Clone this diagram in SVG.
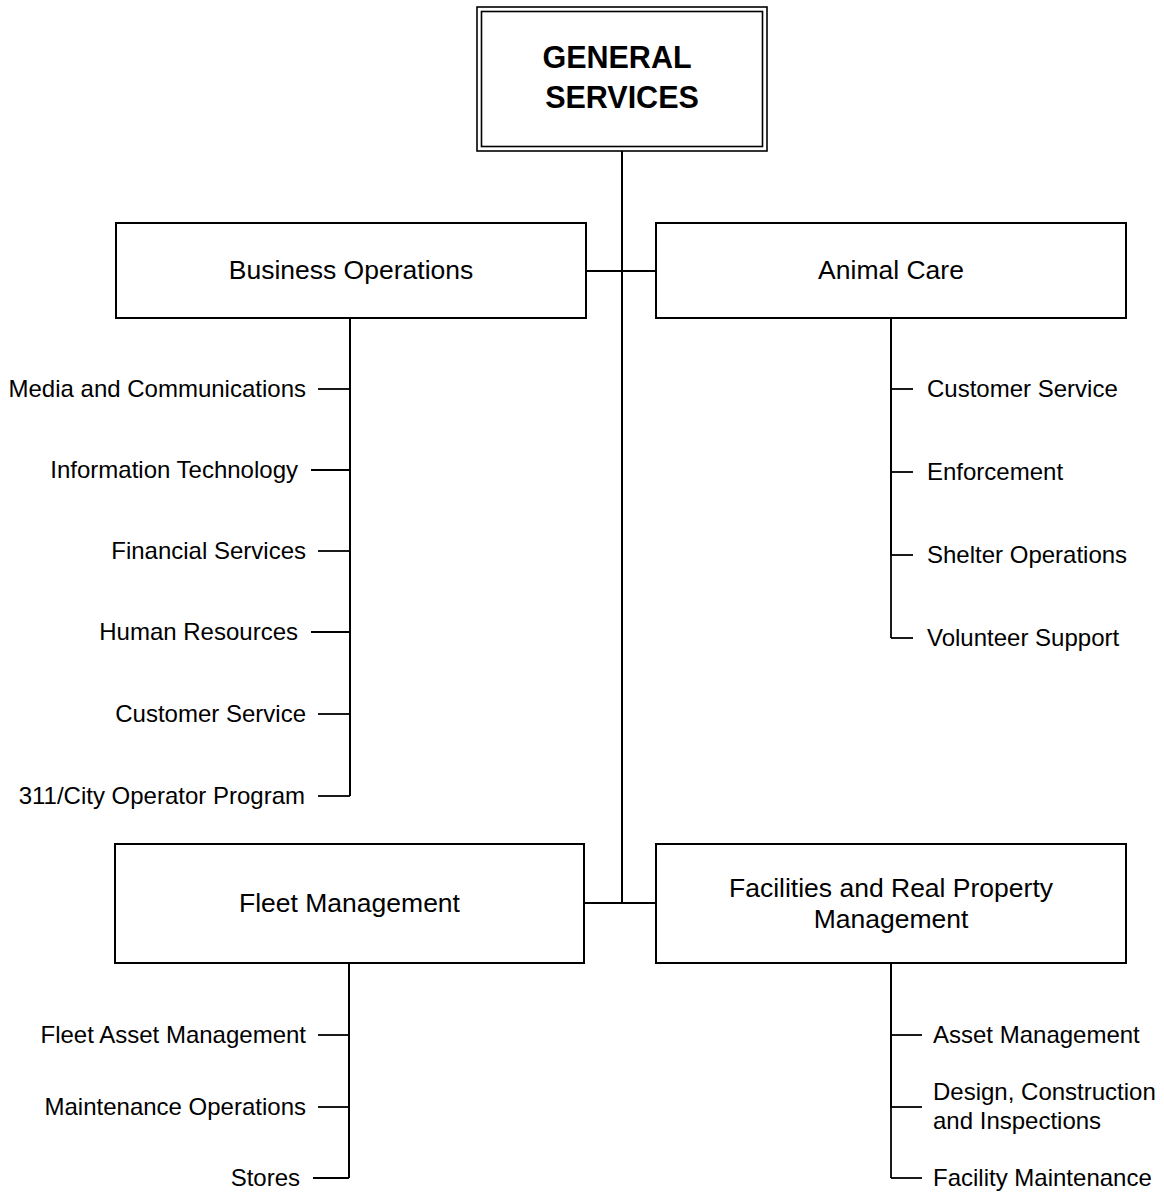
<svg xmlns="http://www.w3.org/2000/svg" width="1164" height="1193" viewBox="0 0 1164 1193">
<style>
  .box { fill: #fff; stroke: #000; stroke-width: 2; }
  .dbl { fill: none; stroke: #000; stroke-width: 1.6; }
  .ln { fill: none; stroke: #000; stroke-width: 2; }
  .tick { fill: none; stroke: #000; stroke-width: 1.8; }
  .title { font-family: "Liberation Sans", Arial, sans-serif; font-weight: bold; font-size: 30.5px; fill: #000; text-anchor: middle; }
  .lbl { font-family: "Liberation Sans", Arial, sans-serif; font-size: 26.5px; fill: #000; text-anchor: middle; }
  .sub { font-family: "Liberation Sans", Arial, sans-serif; font-size: 24px; fill: #000; }
  .r { text-anchor: end; }
  .l { text-anchor: start; }
</style>
<rect width="1164" height="1193" fill="#fff"/>
<g id="connectors">
  <path class="ln" d="M622 151 V903"/>
  <path class="ln" d="M586 271 H656"/>
  <path class="ln" d="M584 903 H656"/>
  <!-- Business Operations children -->
  <path class="ln" d="M350 318 V796"/>
  <path class="tick" d="M318 389 H350"/>
  <path class="tick" d="M311 470 H350"/>
  <path class="tick" d="M318 551 H350"/>
  <path class="tick" d="M311 632 H350"/>
  <path class="tick" d="M318 714 H350"/>
  <path class="tick" d="M318 796 H350"/>
  <!-- Animal Care children -->
  <path class="ln" d="M891 318 V555"/>
  <path class="tick" d="M891 555 V638"/>
  <path class="tick" d="M891 389 H913"/>
  <path class="tick" d="M891 472 H913"/>
  <path class="tick" d="M891 555 H913"/>
  <path class="tick" d="M891 638 H913"/>
  <!-- Fleet Management children -->
  <path class="ln" d="M349 963 V1178"/>
  <path class="tick" d="M318 1035 H349"/>
  <path class="tick" d="M318 1107 H349"/>
  <path class="tick" d="M313 1178 H349"/>
  <!-- Facilities children -->
  <path class="ln" d="M891 963 V1107"/>
  <path class="tick" d="M891 1107 V1178"/>
  <path class="tick" d="M891 1035 H922"/>
  <path class="tick" d="M891 1107 H922"/>
  <path class="tick" d="M891 1178 H922"/>
</g>
<g id="general-services">
  <rect class="dbl" x="477" y="7" width="290" height="144"/>
  <rect class="dbl" x="481.5" y="11.5" width="281" height="135"/>
  <text class="title" x="617" y="68">GENERAL</text>
  <text class="title" x="622" y="108">SERVICES</text>
</g>
<g id="business-operations">
  <rect class="box" x="116" y="223" width="470" height="95"/>
  <text class="lbl" x="351" y="279">Business Operations</text>
</g>
<g id="animal-care">
  <rect class="box" x="656" y="223" width="470" height="95"/>
  <text class="lbl" x="891" y="279">Animal Care</text>
</g>
<g id="fleet-management">
  <rect class="box" x="115" y="844" width="469" height="119"/>
  <text class="lbl" x="349.5" y="912">Fleet Management</text>
</g>
<g id="facilities">
  <rect class="box" x="656" y="844" width="470" height="119"/>
  <text class="lbl" x="891" y="897">Facilities and Real Property</text>
  <text class="lbl" x="891" y="928">Management</text>
</g>
<g id="bo-children">
  <text class="sub r" x="306" y="397">Media and Communications</text>
  <text class="sub r" x="298" y="478">Information Technology</text>
  <text class="sub r" x="306" y="559">Financial Services</text>
  <text class="sub r" x="298" y="640">Human Resources</text>
  <text class="sub r" x="306" y="722">Customer Service</text>
  <text class="sub r" x="305" y="804">311/City Operator Program</text>
</g>
<g id="ac-children">
  <text class="sub l" x="927" y="397">Customer Service</text>
  <text class="sub l" x="927" y="480">Enforcement</text>
  <text class="sub l" x="927" y="563">Shelter Operations</text>
  <text class="sub l" x="927" y="646">Volunteer Support</text>
</g>
<g id="fm-children">
  <text class="sub r" x="306" y="1043">Fleet Asset Management</text>
  <text class="sub r" x="306" y="1115">Maintenance Operations</text>
  <text class="sub r" x="300" y="1186">Stores</text>
</g>
<g id="fac-children">
  <text class="sub l" x="933" y="1043">Asset Management</text>
  <text class="sub l" x="933" y="1100">Design, Construction</text>
  <text class="sub l" x="933" y="1129">and Inspections</text>
  <text class="sub l" x="933" y="1186">Facility Maintenance</text>
</g>
</svg>
